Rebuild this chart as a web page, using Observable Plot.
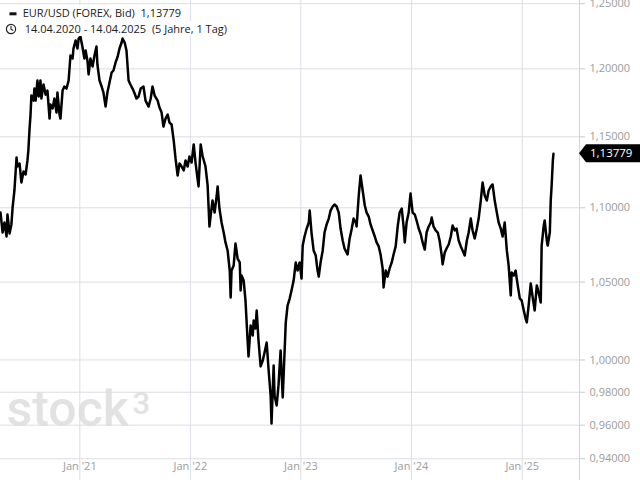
<!DOCTYPE html>
<html>
<head>
<meta charset="utf-8">
<script src="https://cdn.jsdelivr.net/npm/d3@7"></script>
<script src="https://cdn.jsdelivr.net/npm/@observablehq/plot@0.6"></script>
<style>
  html, body { margin: 0; padding: 0; background: #fff; }
  #wrap { position: relative; width: 640px; height: 480px; overflow: hidden; font-family: "Open Sans", "Noto Sans", sans-serif; }
  .hdr { position: absolute; left: 0; font-size: 11px; line-height: 16px; color: #222; white-space: pre; }
  .hdr span.t { background: #fff; }
</style>
</head>
<body>
<div id="wrap">
  <div id="chart"></div>
  <div class="hdr" style="top:5px; left:9px;"><svg width="8" height="16" style="vertical-align:top"><rect x="0.5" y="7.3" width="7" height="3" fill="#111"/></svg><span class="t">  EUR/USD (FOREX, Bid)  1,13779</span></div>
  <div class="hdr" style="top:21px; left:5px;"><svg width="14" height="16" style="vertical-align:top"><circle cx="6" cy="8" r="4.6" fill="#fff" stroke="#222" stroke-width="1.2"/><path d="M6,5 L6,8.3 L8.3,9.6" fill="none" stroke="#222" stroke-width="1.1"/></svg><span class="t">  14.04.2020 - 14.04.2025  (5 Jahre, 1 Tag)</span></div>
</div>
<script>
const title = "EUR/USD (FOREX, Bid)";
const lastValue = 1.13779;
const xDomain = ["2020-04-14", "2025-07-09"];
const yDomain = [0.9273, 1.2525];
const yTicks = [0.94, 0.96, 0.98, 1.00, 1.05, 1.10, 1.15, 1.20, 1.25];
const xTicks = ["2021-01-01", "2022-01-01", "2023-01-01", "2024-01-01", "2025-01-01"];
const xTickLabels = ["Jan '21", "Jan '22", "Jan '23", "Jan '24", "Jan '25"];

const dates = [
"2020-04-14","2020-04-21","2020-04-27","2020-05-04","2020-05-07","2020-05-14","2020-05-20","2020-05-24","2020-05-30","2020-06-06",
"2020-06-09","2020-06-16","2020-06-22","2020-06-29","2020-07-06","2020-07-12","2020-07-15","2020-07-19","2020-07-22","2020-07-25",
"2020-08-01","2020-08-04","2020-08-08","2020-08-14","2020-08-18","2020-08-24","2020-08-27","2020-09-03","2020-09-10","2020-09-16",
"2020-09-23","2020-09-26","2020-10-03","2020-10-09","2020-10-16","2020-10-19","2020-10-26","2020-10-29","2020-11-05","2020-11-11",
"2020-11-18","2020-11-25","2020-12-01","2020-12-08","2020-12-11","2020-12-18","2020-12-24","2020-12-28","2021-01-03","2021-01-10",
"2021-01-16","2021-01-20","2021-01-26","2021-01-30","2021-02-05","2021-02-12","2021-02-19","2021-02-25","2021-02-28","2021-03-07",
"2021-03-14","2021-03-20","2021-03-27","2021-04-02","2021-04-09","2021-04-16","2021-04-22","2021-04-29","2021-05-06","2021-05-12",
"2021-05-19","2021-05-22","2021-05-29","2021-06-04","2021-06-11","2021-06-17","2021-06-24","2021-07-01","2021-07-07","2021-07-14",
"2021-07-21","2021-07-30","2021-08-06","2021-08-16","2021-08-23","2021-08-29","2021-09-05","2021-09-15","2021-09-21","2021-09-28",
"2021-10-04","2021-10-11","2021-10-18","2021-10-24","2021-10-31","2021-11-07","2021-11-13","2021-11-20","2021-11-26","2021-12-03",
"2021-12-10","2021-12-16","2021-12-23","2021-12-29","2022-01-05","2022-01-12","2022-01-18","2022-01-28","2022-02-04","2022-02-10",
"2022-02-20","2022-02-27","2022-03-05","2022-03-09","2022-03-15","2022-03-22","2022-03-29","2022-04-01","2022-04-07","2022-04-14",
"2022-04-21","2022-04-27","2022-05-04","2022-05-11","2022-05-14","2022-05-17","2022-05-24","2022-05-30","2022-06-06","2022-06-13",
"2022-06-16","2022-06-19","2022-06-26","2022-07-02","2022-07-09","2022-07-12","2022-07-19","2022-07-26","2022-07-29","2022-08-04",
"2022-08-08","2022-08-14","2022-08-21","2022-08-28","2022-09-03","2022-09-10","2022-09-16","2022-09-23","2022-09-26","2022-10-03",
"2022-10-06","2022-10-13","2022-10-19","2022-10-26","2022-11-02","2022-11-08","2022-11-12","2022-11-18","2022-11-25","2022-12-01",
"2022-12-08","2022-12-15","2022-12-21","2022-12-28","2023-01-03","2023-01-07","2023-01-13","2023-01-20","2023-01-27","2023-01-30",
"2023-02-05","2023-02-12","2023-02-19","2023-02-25","2023-03-01","2023-03-07","2023-03-14","2023-03-20","2023-03-27","2023-04-03",
"2023-04-09","2023-04-16","2023-04-22","2023-04-29","2023-05-06","2023-05-12","2023-05-19","2023-05-25","2023-06-01","2023-06-04",
"2023-06-11","2023-06-18","2023-06-24","2023-07-01","2023-07-04","2023-07-11","2023-07-17","2023-07-24","2023-07-31","2023-08-06",
"2023-08-13","2023-08-19","2023-08-26","2023-09-02","2023-09-08","2023-09-15","2023-09-21","2023-09-28","2023-10-01","2023-10-08",
"2023-10-14","2023-10-21","2023-10-28","2023-11-03","2023-11-10","2023-11-17","2023-11-23","2023-11-30","2023-12-06","2023-12-10",
"2023-12-16","2023-12-23","2023-12-29","2024-01-05","2024-01-12","2024-01-18","2024-01-25","2024-02-01","2024-02-07","2024-02-14",
"2024-02-20","2024-02-27","2024-03-05","2024-03-08","2024-03-14","2024-03-21","2024-03-28","2024-04-03","2024-04-10","2024-04-13",
"2024-04-20","2024-04-26","2024-05-03","2024-05-10","2024-05-16","2024-05-23","2024-05-29","2024-06-05","2024-06-12","2024-06-18",
"2024-06-25","2024-07-02","2024-07-08","2024-07-15","2024-07-21","2024-07-28","2024-08-04","2024-08-10","2024-08-17","2024-08-23",
"2024-08-30","2024-09-06","2024-09-12","2024-09-19","2024-09-25","2024-10-02","2024-10-09","2024-10-15","2024-10-22","2024-10-28",
"2024-11-04","2024-11-11","2024-11-17","2024-11-24","2024-11-27","2024-12-04","2024-12-10","2024-12-17","2024-12-24","2024-12-30",
"2025-01-06","2025-01-12","2025-01-16","2025-01-22","2025-01-29","2025-02-05","2025-02-11","2025-02-18","2025-02-24","2025-03-03",
"2025-03-06","2025-03-13","2025-03-16","2025-03-23","2025-03-26","2025-04-02","2025-04-05","2025-04-08","2025-04-12","2025-04-14"
];
const values = [
1.0967,1.0831,1.0899,1.0804,1.0954,1.0824,1.0886,1.1002,1.1120,1.1352,
1.1288,1.1309,1.1176,1.1253,1.1232,1.1331,1.1402,1.1560,1.1654,1.1801,
1.1764,1.1853,1.1764,1.1913,1.1794,1.1913,1.1779,1.1883,1.1808,1.1838,
1.1632,1.1735,1.1706,1.1779,1.1676,1.1823,1.1661,1.1632,1.1838,1.1868,
1.1853,1.1913,1.2101,1.2078,1.2154,1.2215,1.2154,1.2230,1.2246,1.2162,
1.2078,1.2139,1.2063,1.1958,1.2078,1.2018,1.2109,1.2169,1.2033,1.1913,
1.1868,1.1823,1.1720,1.1823,1.1898,1.1973,1.1988,1.2048,1.2093,1.2154,
1.2200,1.2230,1.2200,1.2139,1.1913,1.1883,1.1853,1.1816,1.1779,1.1794,
1.1853,1.1868,1.1764,1.1720,1.1779,1.1868,1.1801,1.1764,1.1713,1.1676,
1.1574,1.1632,1.1661,1.1603,1.1589,1.1473,1.1345,1.1225,1.1309,1.1288,
1.1260,1.1331,1.1288,1.1359,1.1316,1.1445,1.1316,1.1148,1.1445,1.1366,
1.1288,1.1155,1.0872,1.0947,1.1050,1.0967,1.1085,1.1148,1.0995,1.0899,
1.0831,1.0764,1.0710,1.0576,1.0399,1.0576,1.0610,1.0757,1.0656,1.0630,
1.0445,1.0543,1.0510,1.0380,1.0123,1.0022,1.0218,1.0155,1.0250,1.0199,
1.0315,1.0123,0.9960,0.9997,1.0047,1.0110,0.9947,0.9780,0.9610,0.9966,
0.9780,0.9719,0.9842,1.0060,0.9768,1.0047,1.0237,1.0347,1.0392,1.0445,
1.0510,1.0630,1.0576,1.0630,1.0523,1.0743,1.0804,1.0858,1.0899,1.0981,
1.0831,1.0710,1.0676,1.0576,1.0536,1.0630,1.0710,1.0831,1.0886,1.0926,
1.0981,1.1009,1.1023,1.1009,1.0967,1.0858,1.0777,1.0723,1.0696,1.0683,
1.0791,1.0858,1.0926,1.0899,1.0872,1.1085,1.1225,1.1120,1.1016,1.0967,
1.0940,1.0886,1.0845,1.0804,1.0764,1.0737,1.0683,1.0590,1.0465,1.0576,
1.0536,1.0590,1.0630,1.0683,1.0737,1.0879,1.0967,1.0995,1.0872,1.0764,
1.0899,1.0967,1.1099,1.0967,1.0954,1.0913,1.0858,1.0818,1.0764,1.0716,
1.0831,1.0872,1.0899,1.0933,1.0872,1.0845,1.0831,1.0777,1.0676,1.0617,
1.0696,1.0723,1.0750,1.0804,1.0879,1.0845,1.0858,1.0777,1.0737,1.0710,
1.0676,1.0777,1.0831,1.0926,1.0845,1.0791,1.0858,1.0926,1.1050,1.1176,
1.1085,1.1050,1.1120,1.1148,1.1162,1.1050,1.0967,1.0899,1.0858,1.0804,
1.0899,1.0710,1.0610,1.0412,1.0563,1.0543,1.0576,1.0478,1.0392,1.0380,
1.0315,1.0263,1.0238,1.0347,1.0491,1.0392,1.0315,1.0478,1.0432,1.0367,
1.0743,1.0879,1.0913,1.0777,1.0743,1.0831,1.1050,1.1155,1.1331,1.13779
];

const data = dates.map((d, i) => ({date: new Date(d), value: values[i]}));
const fmtY = v => d3.format(".5f")(v).replace(".", ",");
const janDates = xTicks.map(d => new Date(d));
const gridColor = "#dcdde6";
const labelColor = "#9c9c9c";

const chart = Plot.plot({
  width: 640,
  height: 480,
  marginTop: 0,
  marginBottom: 0,
  marginLeft: 0,
  marginRight: 61,
  style: {fontFamily: "'Open Sans', 'Noto Sans', sans-serif", fontSize: "11px", background: "transparent", overflow: "visible"},
  x: {type: "utc", domain: xDomain.map(d => new Date(d)), axis: null},
  y: {type: "log", domain: yDomain},
  marks: [
    Plot.text(["stock"], {frameAnchor: "bottom-left", dx: 6, dy: -55, lineAnchor: "bottom", textAnchor: "start", fontSize: 50, fontWeight: 500, fontFamily: "Roboto", fill: "#e2e2e2"}),
    Plot.text(["3"], {frameAnchor: "bottom-left", dx: 132, dy: -67, lineAnchor: "bottom", textAnchor: "start", fontSize: 31, fontWeight: 500, fontFamily: "Roboto", fill: "#e2e2e2"}),
    Plot.ruleY(yTicks, {stroke: gridColor, strokeWidth: 1}),
    Plot.ruleX(janDates, {stroke: gridColor, strokeWidth: 1}),
    Plot.ruleX([new Date(xDomain[1])], {stroke: "#d2d3dc", strokeWidth: 1}),
    Plot.text(janDates, {x: d => d, text: (d, i) => xTickLabels[i], frameAnchor: "bottom", dy: -11, fill: labelColor, fontSize: 11}),
    Plot.axisY({anchor: "right", ticks: yTicks, tickFormat: fmtY, tickSize: 5, tickPadding: 5, stroke: "#c8c9d2", fill: labelColor, fontSize: 11, label: null}),
    Plot.lineY(data, {x: "date", y: "value", stroke: "#000", strokeWidth: 2.5, strokeLinejoin: "round"})
  ]
});

// last price badge on the right axis
const ys = chart.scale("y").apply(lastValue);
const x0 = 640 - 61;
const ns = "http://www.w3.org/2000/svg";
const g = document.createElementNS(ns, "g");
const p = document.createElementNS(ns, "path");
p.setAttribute("d", `M${x0},${ys} L${x0 + 7},${ys - 9} L640,${ys - 9} L640,${ys + 9} L${x0 + 7},${ys + 9} Z`);
p.setAttribute("fill", "#000");
const t = document.createElementNS(ns, "text");
t.setAttribute("x", x0 + 11);
t.setAttribute("y", ys);
t.setAttribute("dy", "0.35em");
t.setAttribute("fill", "#fff");
t.setAttribute("font-size", "11.5");
t.setAttribute("text-anchor", "start");
t.textContent = fmtY(lastValue);
g.appendChild(p); g.appendChild(t);
chart.appendChild(g);

document.getElementById("chart").appendChild(chart);
</script>
</body>
</html>
